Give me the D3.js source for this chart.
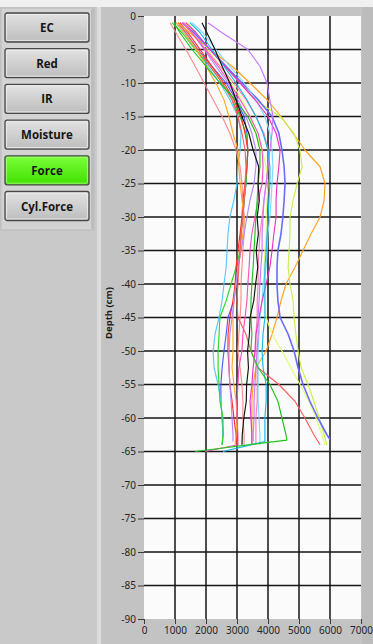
<!DOCTYPE html>
<html>
<head>
<meta charset="utf-8">
<script src="https://cdn.jsdelivr.net/npm/d3@7/dist/d3.min.js"></script>
<style>
  html, body { margin: 0; padding: 0; background: #c6c6c6; }
  svg { display: block; }
</style>
</head>
<body>
<svg id="chart" width="373" height="644"></svg>
<script>
// Depth samples (cm) shared by every probe profile
const depthCm = [-1, -2.5, -5, -7.5, -10, -12.5, -15, -17.5, -20, -22.5, -25, -27.5, -30,
  -32.5, -35, -37.5, -40, -42.5, -45, -47.5, -50, -52.5, -55, -57.5, -60, -62.5];

// Penetration force per profile at the depths above
const forceProfiles = [
  [1100,1350,1740,2190,2650,2970,3230,3320,3350,3320,3290,3230,3190,3130,3100,3030,2970,2900,2710,2650,2580,2520,2480,2480,2520,2550],
  [840,1030,1350,1650,1940,2230,2520,2770,2970,3100,3160,3190,3230,3230,3190,3160,3130,3130,3100,3060,3030,3100,3160,3190,3190,3230],
  [1030,1290,1680,2060,2450,2770,3030,3130,3100,3030,3000,2900,2770,2710,2680,2650,2580,2520,2420,2290,2230,2260,2390,2480,2520,2550],
  [900,1230,1650,2130,2520,2840,3100,3290,3350,3320,3290,3230,3190,3130,3100,2970,2810,2650,2450,2420,2390,2390,2420,2450,2550,2550],
  [1160,1420,1810,2190,2580,2900,3130,3260,3350,3320,3260,3190,3160,3100,3030,2970,2940,2870,2770,2710,2710,2740,2770,2840,2900,2970],
  [1030,1290,1680,2000,2320,2580,2740,2870,3030,3060,3100,3160,3230,3190,3130,3030,2970,2900,2870,2870,2870,2840,2900,2970,3000,2970],
  [1290,1550,1940,2320,2710,3030,3290,3480,3610,3610,3550,3420,3320,3230,3130,3030,2970,2900,2840,2770,2740,2740,2770,2810,2840,2870],
  [1100,1350,1740,2130,2520,2840,3030,3160,3260,3290,3260,3230,3190,3130,3100,3060,3030,3000,3030,3290,3450,3680,4350,4870,5190,5480],
  [1100,1480,2130,2840,3420,3970,4420,4810,5190,5680,5840,5810,5680,5390,5130,4870,4580,4420,4290,4130,3940,3610,3520,3480,3480,3480],
  [1320,1650,2130,2610,3100,3580,4390,4840,5030,5100,4940,4810,4710,4710,4680,4650,4710,4810,4840,4900,4970,5070,5290,5480,5650,5810],
  [1420,1680,2060,2450,2840,3160,3420,3610,3810,3940,4000,3970,3940,3940,3900,3870,3870,3870,3940,4130,4450,4740,5030,5320,5550,5740],
  [1230,1610,2130,2650,3160,3680,4130,4350,4450,4520,4550,4520,4480,4420,4320,4290,4290,4320,4390,4650,4840,4970,5130,5350,5610,5900],
  [1550,1900,2320,2770,3230,3610,3900,4060,4130,4160,4130,4100,4060,4000,3970,3940,3840,3810,3740,3710,3680,3680,3680,3680,3710,3740],
  [1260,1550,2000,2450,2900,3290,3610,3870,4000,4000,3940,3870,3810,3740,3710,3680,3680,3650,3650,3610,3610,3650,3650,3650,3610,3610],
  [1350,1680,2130,2610,3100,3580,4000,4260,4390,4350,4290,4260,4260,4190,4130,4060,3940,3810,3710,3610,3580,3520,3480,3420,3450,3480],
  [2060,2520,3350,3740,3970,4060,4160,4130,4060,4000,3940,3870,3840,3810,3810,3770,3740,3710,3680,3680,3650,3610,3580,3550,3550,3520],
  [1480,1810,2190,2580,2970,3320,3610,3840,4000,4060,4060,4030,4000,3970,3940,3900,3900,3900,3900,3840,3810,3840,3940,3940,3900,3900],
  [1230,1550,1970,2390,2770,3100,3420,3680,3810,3840,3810,3680,3580,3480,3420,3390,3350,3320,3260,3190,3160,3060,3030,3000,3000,3030],
  [970,1160,1550,2000,2450,2940,3350,3610,3740,3740,3680,3650,3610,3580,3550,3520,3480,3450,3450,3480,3450,3680,4060,4320,4450,4580],
  [1870,2030,2290,2520,2770,2970,3160,3380,3520,3700,3680,3720,3650,3690,3620,3670,3600,3540,3420,3400,3340,3370,3310,3300,3220,3170]
];

// Last reading of each profile: [depth, force]
const lastReading = [
  [-64, 2520], [-64, 3230], [-64, 2520], [-64, 2520], [-64, 3000], [-64, 2940], [-63.5, 2870],
  [-64, 5680], [-64, 3480], [-64, 5900], [-64, 5840], [-63.2, 6000], [-64, 3740], [-64, 3610],
  [-64, 3480], [-63.5, 3520], [-63.5, 3900], [-64, 3030], [-63.3, 4610], [-64, 3160]
];

// Closing reading at the bottom of the hole, where one was logged
const bottomReading = [
  null, null, null, null, null, null, null, null, null, null, null, null, null, null, null, null,
  [-65, 2550], [-65, 1970], [-65, 1650], null
];

const profileColors = [
  "#4a5cff", "#ff8c8c", "#5bc8ff", "#2ed82e", "#ff2a2a", "#ffab2e", "#b587ff", "#ff5f5f",
  "#ffa41c", "#c8f050", "#dcff78", "#6b6bff", "#7fd8ff", "#ff7fb0", "#f030c8", "#cc77ff",
  "#1eb4ea", "#ff4fbf", "#1fc41f", "#111111"
];

const depthTicks = d3.range(0, -91, -5);
const forceTicks = d3.range(0, 7001, 1000);
const buttonLabels = ["EC", "Red", "IR", "Moisture", "Force", "Cyl.Force"];
const activeButton = "Force";

const svg = d3.select("#chart");
const defs = svg.append("defs");

// ---- panel chrome ----
svg.append("rect").attr("x", 0).attr("y", 0).attr("width", 373).attr("height", 644).attr("fill", "#c6c6c6");
svg.append("rect").attr("x", 0).attr("y", 0).attr("width", 373).attr("height", 7).attr("fill", "#f0f0f0");
svg.append("rect").attr("x", 0).attr("y", 7).attr("width", 97).attr("height", 637).attr("fill", "#c9c9c9");
svg.append("rect").attr("x", 1).attr("y", 8).attr("width", 93).attr("height", 222)
  .attr("fill", "#d3d3d3").attr("stroke", "#bababa");
svg.append("rect").attr("x", 91).attr("y", 9).attr("width", 3).attr("height", 220).attr("fill", "#bdbdbd");
svg.append("rect").attr("x", 97).attr("y", 7).attr("width", 4).attr("height", 637).attr("fill", "#dcdcdc");
svg.append("rect").attr("x", 101).attr("y", 7).attr("width", 272).attr("height", 637).attr("fill", "#c3c3c3");
svg.append("rect").attr("x", 362).attr("y", 7).attr("width", 11).attr("height", 637).attr("fill", "#bcbcbc");

// ---- selector buttons ----
const gGrey = defs.append("linearGradient").attr("id", "btnGrey").attr("x1", 0).attr("y1", 0).attr("x2", 0).attr("y2", 1);
gGrey.append("stop").attr("offset", "0%").attr("stop-color", "#e2e2e2");
gGrey.append("stop").attr("offset", "100%").attr("stop-color", "#bdbdbd");
const gGreen = defs.append("linearGradient").attr("id", "btnGreen").attr("x1", 0).attr("y1", 0).attr("x2", 0).attr("y2", 1);
gGreen.append("stop").attr("offset", "0%").attr("stop-color", "#7dff3a");
gGreen.append("stop").attr("offset", "100%").attr("stop-color", "#3fe000");

const btn = svg.append("g").selectAll("g").data(buttonLabels).join("g")
  .attr("transform", (d, i) => `translate(5,${13 + i * 35.7})`);
btn.append("rect").attr("width", 84).attr("height", 29).attr("rx", 2)
  .attr("fill", d => d === activeButton ? "url(#btnGreen)" : "url(#btnGrey)")
  .attr("stroke", "#474747").attr("stroke-width", 1.3);
btn.append("rect").attr("x", 1.6).attr("y", 1.6).attr("width", 80.8).attr("height", 25.8).attr("rx", 1)
  .attr("fill", "none").attr("stroke", d => d === activeButton ? "#aaff80" : "#ededed").attr("stroke-width", 0.8);
btn.append("text").attr("x", 42).attr("y", 19)
  .attr("text-anchor", "middle")
  .attr("font-family", "'Open Sans', 'Noto Sans', sans-serif").attr("font-weight", "bold")
  .attr("font-size", 11.5).attr("fill", "#161616")
  .text(d => d);

// ---- plot ----
const x = d3.scaleLinear().domain([0, 7000]).range([144, 361]);
const y = d3.scaleLinear().domain([0, -90]).range([16, 619]);

svg.append("rect").attr("x", x(0)).attr("y", y(0))
  .attr("width", x(7000) - x(0)).attr("height", y(-90) - y(0)).attr("fill", "#fbfbfb");

const grid = svg.append("g");
grid.selectAll("line.v").data(forceTicks.filter(t => t > 0 && t < 7000)).join("line")
  .attr("x1", d => x(d)).attr("x2", d => x(d)).attr("y1", y(0)).attr("y2", y(-90))
  .attr("stroke", "#151515").attr("stroke-width", 1.5);
grid.selectAll("line.h").data(depthTicks.filter(t => t < 0 && t > -90)).join("line")
  .attr("x1", x(0)).attr("x2", x(7000)).attr("y1", d => y(d)).attr("y2", d => y(d))
  .attr("stroke", "#151515").attr("stroke-width", 1.5);

// ---- profiles ----
const line = d3.line().x(d => x(d[1])).y(d => y(d[0]));
const profilePoints = forceProfiles.map((vals, i) => {
  const pts = vals.map((v, k) => [depthCm[k], v]);
  pts.push(lastReading[i]);
  if (bottomReading[i]) pts.push(bottomReading[i]);
  return pts;
});
svg.append("g").selectAll("path").data(profilePoints).join("path")
  .attr("d", line)
  .attr("fill", "none")
  .attr("stroke", (d, i) => profileColors[i])
  .attr("stroke-width", (d, i) => i === 11 ? 1.6 : 1.15)
  .attr("stroke-linejoin", "round");

// ---- axes ----
const yAxis = svg.append("g").attr("transform", `translate(${x(0)},0)`)
  .call(d3.axisLeft(y).tickValues(depthTicks).tickSize(6).tickPadding(2).tickFormat(d3.format("d")));
const xAxis = svg.append("g").attr("transform", `translate(0,${y(-90)})`)
  .call(d3.axisBottom(x).tickValues(forceTicks).tickSize(5).tickPadding(3).tickFormat(d3.format("d")));
[yAxis, xAxis].forEach(a => {
  a.select(".domain").remove();
  a.selectAll(".tick line").attr("stroke", "#3a3a3a");
  a.selectAll(".tick text").attr("fill", "#262626")
    .attr("font-family", "'Noto Sans', sans-serif").attr("font-size", 10);
});
yAxis.selectAll(".tick text").text(d => d === 0 ? "0" : "-" + Math.abs(d));

svg.append("text")
  .attr("transform", "translate(112,313) rotate(-90)")
  .attr("text-anchor", "middle")
  .attr("font-family", "'Noto Sans', sans-serif").attr("font-weight", "bold")
  .attr("font-size", 9.5).attr("fill", "#1b1b1b")
  .text("Depth (cm)");
</script>
</body>
</html>
